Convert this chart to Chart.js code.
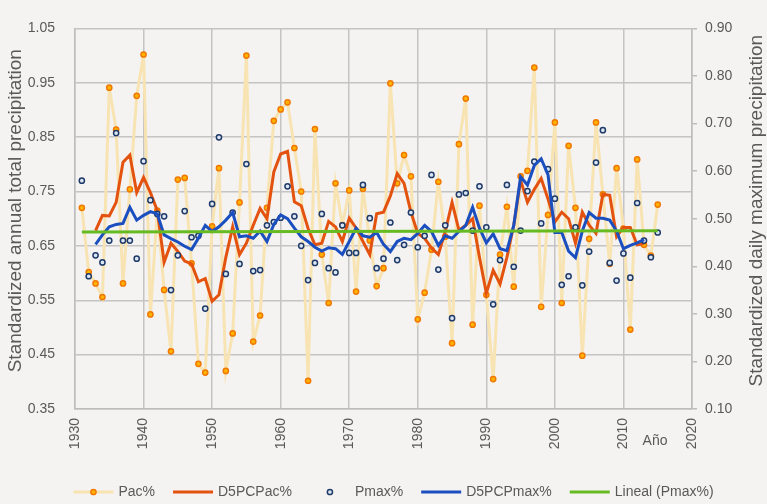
<!DOCTYPE html>
<html>
<head>
<meta charset="utf-8">
<script src="https://cdn.jsdelivr.net/npm/chart.js@4.4.1/dist/chart.umd.min.js"></script>
<style>
  html, body { margin: 0; padding: 0; background: #f4f3f1; }
</style>
</head>
<body>
<canvas id="myChart" width="767" height="504"></canvas>
<script>
const FONT = "'Liberation Sans', 'DejaVu Sans', sans-serif";
const TEXT = '#595959';

// yearly series run 1931-2015, the 5-period curves 1933-2013
const years = Array.from({ length: 85 }, (_, i) => 1931 + i);
const smoothYears = Array.from({ length: 81 }, (_, i) => 1933 + i);

const pac = [
    0.720, 0.602, 0.581, 0.556, 0.941, 0.864, 0.581, 0.754, 0.926, 1.002,
    0.524, 0.715, 0.569, 0.456, 0.772, 0.775, 0.618, 0.433, 0.417, 0.686,
    0.793, 0.420, 0.489, 0.730, 1.000, 0.474, 0.522, 0.720, 0.880, 0.901,
    0.914, 0.830, 0.750, 0.402, 0.865, 0.634, 0.545, 0.765, 0.688, 0.752,
    0.566, 0.755, 0.660, 0.576, 0.609, 0.949, 0.765, 0.817, 0.778, 0.515,
    0.564, 0.643, 0.768, 0.667, 0.471, 0.837, 0.921, 0.505, 0.724, 0.560,
    0.405, 0.634, 0.722, 0.575, 0.778, 0.788, 0.978, 0.538, 0.707, 0.877,
    0.545, 0.834, 0.720, 0.448, 0.663, 0.877, 0.745, 0.617, 0.793, 0.682,
    0.496, 0.809, 0.652, 0.632, 0.726
];

const pmax = [
    0.580, 0.379, 0.423, 0.408, 0.454, 0.680, 0.454, 0.454, 0.416, 0.621,
    0.539, 0.510, 0.505, 0.350, 0.423, 0.516, 0.461, 0.464, 0.311, 0.531,
    0.671, 0.384, 0.513, 0.405, 0.615, 0.390, 0.392, 0.486, 0.493, 0.502,
    0.568, 0.505, 0.443, 0.371, 0.407, 0.510, 0.396, 0.387, 0.486, 0.428,
    0.428, 0.571, 0.501, 0.396, 0.416, 0.492, 0.413, 0.445, 0.513, 0.440,
    0.464, 0.592, 0.393, 0.486, 0.291, 0.551, 0.554, 0.475, 0.568, 0.482,
    0.320, 0.413, 0.571, 0.399, 0.475, 0.558, 0.620, 0.490, 0.604, 0.542,
    0.361, 0.379, 0.482, 0.360, 0.431, 0.618, 0.686, 0.407, 0.370, 0.427,
    0.376, 0.533, 0.454, 0.419, 0.471
];

const d5Pac = [
    0.678, 0.706, 0.705, 0.730, 0.804, 0.817, 0.748, 0.776, 0.748, 0.715,
    0.620, 0.655, 0.640, 0.622, 0.617, 0.584, 0.590, 0.548, 0.560, 0.629,
    0.685, 0.634, 0.655, 0.688, 0.719, 0.700, 0.786, 0.819, 0.824, 0.731,
    0.724, 0.682, 0.652, 0.655, 0.695, 0.685, 0.658, 0.701, 0.683, 0.658,
    0.634, 0.709, 0.712, 0.742, 0.783, 0.765, 0.712, 0.673, 0.664, 0.646,
    0.634, 0.676, 0.730, 0.679, 0.688, 0.700, 0.629, 0.563, 0.605, 0.580,
    0.629, 0.688, 0.771, 0.730, 0.754, 0.774, 0.736, 0.694, 0.712, 0.700,
    0.655, 0.712, 0.688, 0.673, 0.745, 0.743, 0.667, 0.684, 0.684, 0.652,
    0.655
];

const d5Pmax = [
    0.446, 0.466, 0.483, 0.488, 0.490, 0.524, 0.497, 0.507, 0.515, 0.510,
    0.466, 0.458, 0.451, 0.442, 0.435, 0.459, 0.486, 0.473, 0.483, 0.497,
    0.513, 0.462, 0.464, 0.459, 0.474, 0.452, 0.488, 0.508, 0.500, 0.480,
    0.462, 0.452, 0.440, 0.432, 0.439, 0.437, 0.425, 0.452, 0.480, 0.464,
    0.461, 0.471, 0.446, 0.431, 0.452, 0.459, 0.456, 0.469, 0.486, 0.473,
    0.444, 0.464, 0.459, 0.473, 0.486, 0.524, 0.480, 0.449, 0.468, 0.437,
    0.433, 0.486, 0.588, 0.571, 0.612, 0.626, 0.592, 0.471, 0.471, 0.432,
    0.418, 0.474, 0.513, 0.501, 0.501, 0.497, 0.474, 0.437, 0.444, 0.449,
    0.456
];

// linear trend of Pmax%, end points
const trendYears = [1931, 2015];
const trendPmax = [0.472, 0.4745];

const leftTitle = 'Standardized annual total precipitation';
const rightTitle = 'Standardized daily maximum precipitation';
const xTitle = 'Año';

function pairs(xs, ys) {
    return xs.map((x, i) => ({ x: x, y: ys[i] }));
}

const extras = {
    id: 'extras',
    beforeDraw(chart) {
        const ctx = chart.ctx;
        ctx.save();
        ctx.fillStyle = '#f4f3f1';
        ctx.fillRect(0, 0, chart.width, chart.height);
        ctx.restore();
    },
    afterDraw(chart) {
        const ctx = chart.ctx;
        const area = chart.chartArea;
        ctx.save();
        ctx.fillStyle = TEXT;

        // axis titles, both read bottom to top
        ctx.font = '19px ' + FONT;
        ctx.textAlign = 'center';
        ctx.textBaseline = 'middle';
        const midY = (area.top + area.bottom) / 2 - 8;
        [[16, leftTitle], [chart.width - 10, rightTitle]].forEach(([tx, txt]) => {
            ctx.save();
            ctx.translate(tx, midY);
            ctx.rotate(-Math.PI / 2);
            ctx.fillText(txt, 0, 0);
            ctx.restore();
        });

        ctx.font = '14px ' + FONT;
        ctx.fillText(xTitle, area.right - 37, area.bottom + 32);

        // legend row
        const sets = chart.data.datasets;
        const sample = 40, gap = 5, space = 18;
        const widths = sets.map(ds => sample + gap + ctx.measureText(ds.label).width);
        const total = widths.reduce((a, b) => a + b, 0) + space * (sets.length - 1);
        let x = (chart.width - total) / 2 + 10;
        const y = 492;
        sets.forEach((ds, i) => {
            if (ds.showLine !== false) {
                ctx.strokeStyle = ds.borderColor;
                ctx.lineWidth = ds.borderWidth;
                ctx.beginPath();
                ctx.moveTo(x, y);
                ctx.lineTo(x + sample, y);
                ctx.stroke();
            }
            if (ds.pointRadius > 0) {
                ctx.beginPath();
                ctx.arc(x + sample / 2, y, ds.pointRadius, 0, Math.PI * 2);
                ctx.fillStyle = ds.pointBackgroundColor;
                ctx.fill();
                ctx.lineWidth = ds.pointBorderWidth;
                ctx.strokeStyle = ds.pointBorderColor;
                ctx.stroke();
            }
            ctx.fillStyle = TEXT;
            ctx.textAlign = 'left';
            ctx.fillText(ds.label, x + sample + gap, y);
            x += widths[i] + space;
        });
        ctx.restore();
    }
};

const ctx = document.getElementById('myChart');

new Chart(ctx, {
    type: 'line',
    data: {
        datasets: [
            {
                label: 'Pac%',
                data: pairs(years, pac),
                yAxisID: 'y',
                borderColor: '#f8e3b2',
                borderWidth: 3,
                pointRadius: 2.6,
                pointBackgroundColor: '#ffb300',
                pointBorderColor: '#f07800',
                pointBorderWidth: 1.5,
                order: 5
            },
            {
                label: 'D5PCPac%',
                data: pairs(smoothYears, d5Pac),
                yAxisID: 'y',
                borderColor: '#e3530f',
                borderWidth: 3,
                pointRadius: 0,
                order: 4
            },
            {
                label: 'Pmax%',
                data: pairs(years, pmax),
                yAxisID: 'y1',
                showLine: false,
                borderColor: '#1f3a68',
                pointRadius: 2.6,
                pointBackgroundColor: '#dbe6f2',
                pointBorderColor: '#1f3a68',
                pointBorderWidth: 1.5,
                order: 3
            },
            {
                label: 'D5PCPmax%',
                data: pairs(smoothYears, d5Pmax),
                yAxisID: 'y1',
                borderColor: '#1b4fc0',
                borderWidth: 3,
                pointRadius: 0,
                order: 2
            },
            {
                label: 'Lineal (Pmax%)',
                data: pairs(trendYears, trendPmax),
                yAxisID: 'y1',
                borderColor: '#66bb22',
                borderWidth: 3,
                pointRadius: 0,
                order: 1
            }
        ]
    },
    options: {
        responsive: false,
        animation: false,
        layout: { padding: { top: 17, left: 0, right: 0, bottom: 0 } },
        plugins: {
            legend: { display: false },
            tooltip: { enabled: false }
        },
        scales: {
            x: {
                type: 'linear',
                min: 1930,
                max: 2020,
                afterFit: s => { s.height = 95; },
                grid: { color: '#c4c4c4', lineWidth: 1.5, drawTicks: false },
                border: { color: '#bdbdbd', width: 1.5 },
                ticks: {
                    stepSize: 10,
                    minRotation: 90,
                    maxRotation: 90,
                    padding: 9,
                    color: TEXT,
                    font: { family: FONT, size: 14 },
                    callback: v => String(v)
                }
            },
            y: {
                position: 'left',
                min: 0.35,
                max: 1.05,
                afterFit: s => { s.width = 75; },
                grid: { color: '#c4c4c4', lineWidth: 1.5, drawTicks: false },
                border: { color: '#bdbdbd', width: 1.5 },
                ticks: {
                    stepSize: 0.1,
                    padding: 20,
                    color: TEXT,
                    font: { family: FONT, size: 14 },
                    callback: v => v.toFixed(2)
                }
            },
            y1: {
                position: 'right',
                min: 0.1,
                max: 0.9,
                afterFit: s => { s.width = 75; },
                grid: { drawOnChartArea: false, color: '#bdbdbd', lineWidth: 1.5, tickLength: 5 },
                border: { color: '#bdbdbd', width: 1.5 },
                ticks: {
                    stepSize: 0.1,
                    padding: 8,
                    color: TEXT,
                    font: { family: FONT, size: 14 },
                    callback: v => v.toFixed(2)
                }
            }
        }
    },
    plugins: [extras]
});
</script>
</body>
</html>
